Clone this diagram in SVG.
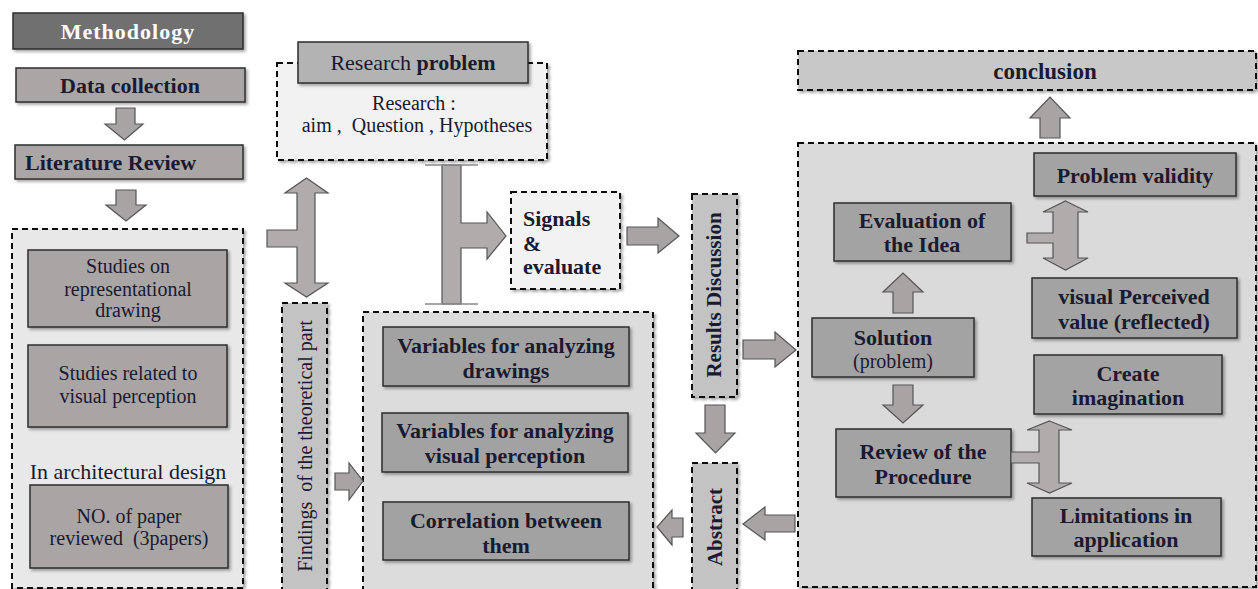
<svg xmlns="http://www.w3.org/2000/svg" width="1258" height="589" viewBox="0 0 1258 589">
<defs>
<filter id="sh" x="-10%" y="-10%" width="130%" height="140%">
<feDropShadow dx="2" dy="2" stdDeviation="1.5" flood-color="#000" flood-opacity="0.35"/>
</filter>
<style>
.t{font-family:"Liberation Serif","Times New Roman",serif;fill:#1a1a30;text-anchor:middle}
.b{font-weight:bold;font-size:22px}
.n{font-size:20px}
.box{stroke:#2e2e2e;stroke-width:1.5}
.dash{stroke:#111;stroke-width:2;stroke-dasharray:6 4}
.arr{fill:#a8a4a4;stroke:#555;stroke-width:1.2;stroke-linejoin:miter}
.darr{fill:#b0acac;stroke:#555;stroke-width:1.2}
</style>
</defs>
<rect width="1258" height="589" fill="#fff"/>

<g id="methodology">
<rect class="box" x="13" y="13" width="230" height="36" fill="#707070" filter="url(#sh)"/>
<text class="t b" x="128" y="39" style="fill:#fff;letter-spacing:1px">Methodology</text>
</g>
<g id="data-collection">
<rect class="box" x="16" y="68" width="229" height="34" fill="#aaa6a6" filter="url(#sh)"/>
<text class="t b" x="130" y="92.5">Data collection</text>
</g>
<g id="literature-review">
<rect class="box" x="15" y="145" width="228" height="34" fill="#aaa6a6" filter="url(#sh)"/>
<text class="t b" x="25" y="169.5" style="text-anchor:start">Literature Review</text>
</g>
<g id="studies-container">
<rect class="dash" x="12" y="229" width="231" height="359" fill="#e8e8e8" filter="url(#sh)"/>
<text class="t" x="128" y="479" style="font-size:22px">In architectural design</text>
</g>
<g id="studies-drawing">
<rect class="box" x="28" y="250" width="199" height="77" fill="#a9a5a5" filter="url(#sh)"/>
<text class="t n" x="128" y="273">Studies on</text>
<text class="t n" x="128" y="296">representational</text>
<text class="t n" x="128" y="317">drawing</text>
</g>
<g id="studies-perception">
<rect class="box" x="28" y="345" width="199" height="82" fill="#a9a5a5" filter="url(#sh)"/>
<text class="t n" x="128" y="380">Studies related to</text>
<text class="t n" x="128" y="403">visual perception</text>
</g>
<g id="papers">
<rect class="box" x="30" y="485" width="198" height="83" fill="#a9a5a5" filter="url(#sh)"/>
<text class="t n" x="129" y="523">NO. of paper</text>
<text class="t n" x="129" y="545" xml:space="preserve">reviewed  (3papers)</text>
</g>

<g id="research-problem">
<rect class="dash" x="277" y="63" width="270" height="97" fill="#f2f2f2" filter="url(#sh)"/>
<rect class="box" x="298" y="42" width="230" height="41" fill="#b3b3b3" filter="url(#sh)"/>
<text class="t" x="413" y="70" style="font-size:22px">Research <tspan font-weight="bold">problem</tspan></text>
<text class="t n" x="414" y="110" xml:space="preserve">Research :</text>
<text class="t n" x="417" y="132" xml:space="preserve">aim ,  Question , Hypotheses</text>
</g>

<g id="findings">
<rect class="dash" x="282" y="303" width="45" height="300" fill="#c3c3c3" filter="url(#sh)"/>
<text class="t n" transform="translate(312,446) rotate(-90)" xml:space="preserve">Findings  of the theoretical part</text>
</g>

<g id="variables-container">
<rect class="dash" x="363" y="312" width="290" height="300" fill="#dcdcdc" filter="url(#sh)"/>
</g>
<g id="var-drawings">
<rect class="box" x="383" y="327" width="246" height="59" fill="#a2a2a2" filter="url(#sh)"/>
<text class="t b" x="506" y="352.5">Variables for analyzing</text>
<text class="t b" x="506" y="377.5">drawings</text>
</g>
<g id="var-perception">
<rect class="box" x="382" y="413" width="246" height="59" fill="#a2a2a2" filter="url(#sh)"/>
<text class="t b" x="505" y="437.5">Variables for analyzing</text>
<text class="t b" x="505" y="462.5">visual perception</text>
</g>
<g id="correlation">
<rect class="box" x="383" y="502" width="246" height="58" fill="#a2a2a2" filter="url(#sh)"/>
<text class="t b" x="506" y="527.5">Correlation between</text>
<text class="t b" x="506" y="552.5">them</text>
</g>

<g id="signals">
<rect class="dash" x="511" y="192" width="109" height="97" fill="#f2f2f2" filter="url(#sh)"/>
<text class="t b" x="523" y="225.5" style="text-anchor:start">Signals</text>
<text class="t b" x="523" y="250.5" style="text-anchor:start">&amp;</text>
<text class="t b" x="523" y="273.5" style="text-anchor:start">evaluate</text>
</g>

<g id="results-discussion">
<rect class="dash" x="692" y="194" width="45" height="203" fill="#c3c3c3" filter="url(#sh)"/>
<text class="t" transform="translate(721,295) rotate(-90)" style="font-size:21px;font-weight:bold">Results Discussion</text>
</g>
<g id="abstract">
<rect class="dash" x="692" y="463" width="45" height="140" fill="#c3c3c3" filter="url(#sh)"/>
<text class="t" transform="translate(722,527) rotate(-90)" style="font-size:21px;font-weight:bold">Abstract</text>
</g>

<g id="conclusion">
<rect class="dash" x="798" y="51" width="458" height="39" fill="#c8c8c8" filter="url(#sh)"/>
<text class="t" x="1045" y="79" style="font-size:23px;font-weight:bold">conclusion</text>
</g>
<g id="discussion-container">
<rect class="dash" x="798" y="143" width="458" height="444" fill="#dadada" filter="url(#sh)"/>
</g>
<g id="problem-validity">
<rect class="box" x="1034" y="153" width="202" height="43" fill="#a3a3a3" filter="url(#sh)"/>
<text class="t b" x="1135" y="182.5">Problem validity</text>
</g>
<g id="evaluation">
<rect class="box" x="834" y="203" width="177" height="58" fill="#a3a3a3" filter="url(#sh)"/>
<text class="t b" x="922" y="227.5">Evaluation of</text>
<text class="t b" x="922" y="251.5">the Idea</text>
</g>
<g id="visual-perceived">
<rect class="box" x="1032" y="278" width="205" height="60" fill="#a3a3a3" filter="url(#sh)"/>
<text class="t b" x="1134" y="303.5">visual Perceived</text>
<text class="t b" x="1134" y="328.5">value (reflected)</text>
</g>
<g id="solution">
<rect class="box" x="812" y="318" width="162" height="59" fill="#a3a3a3" filter="url(#sh)"/>
<text class="t b" x="893" y="344.5">Solution</text>
<text class="t n" x="893" y="368">(problem)</text>
</g>
<g id="create-imagination">
<rect class="box" x="1034" y="355" width="188" height="59" fill="#a3a3a3" filter="url(#sh)"/>
<text class="t b" x="1128" y="380.5">Create</text>
<text class="t b" x="1128" y="404.5">imagination</text>
</g>
<g id="review-procedure">
<rect class="box" x="836" y="429" width="175" height="68" fill="#a3a3a3" filter="url(#sh)"/>
<text class="t b" x="923" y="458.5">Review of the</text>
<text class="t b" x="923" y="483.5">Procedure</text>
</g>
<g id="limitations">
<rect class="box" x="1032" y="498" width="189" height="58" fill="#a3a3a3" filter="url(#sh)"/>
<text class="t b" x="1126" y="522.5">Limitations in</text>
<text class="t b" x="1126" y="546.5">application</text>
</g>

<g id="connectors">
<polygon class="arr" points="116,108 135,108 135,124 143,124 124.5,140 105,124 116,124"/>
<polygon class="arr" points="116,190 136,190 136,205 146,205 126,221 106,205 116,205"/>
<polygon class="darr" points="306.5,178 328,193 315,193 315,283 328,283 306.5,297 285,283 297,283 297,247 267,247 267,230 297,230 297,193 285,193"/>
<polygon class="darr" points="442,165 461,165 461,223 487,223 487,212 506,236 487,259 487,248 461,248 461,304 442,304"/>
<line x1="425" y1="165" x2="478" y2="165" stroke="#888" stroke-width="1.5"/>
<line x1="425" y1="304" x2="478" y2="304" stroke="#888" stroke-width="1.5"/>
<polygon class="arr" points="335,473 349,473 349,463 363,481 349,500 349,490 335,490"/>
<polygon class="arr" points="627,227 658,227 658,218 679,236 658,253 658,245 627,245"/>
<polygon class="arr" points="743,340 775,340 775,332 796,350 775,367 775,359 743,359"/>
<polygon class="arr" points="705,405 725,405 725,433 735,433 715.5,453 696,433 705,433"/>
<polygon class="arr" points="795,515 765,515 765,507 743,524 765,540 765,532 795,532"/>
<polygon class="arr" points="683,518 672,518 672,510 657,527 672,545 672,537 683,537"/>
<polygon class="arr" points="1040,138 1060,138 1060,118 1070,118 1050,97 1030,118 1040,118"/>
<polygon class="arr" points="893,313 913,313 913,292 923,292 903,273 883,292 893,292"/>
<polygon class="arr" points="893,385 913,385 913,405 923,405 903,423 883,405 893,405"/>
<polygon class="darr" points="1065.5,201 1088,212 1078,212 1078,258 1088,258 1065.5,270 1043,258 1053,258 1053,243 1027,243 1027,233 1053,233 1053,212 1043,212"/>
<polygon class="darr" points="1049.5,421 1072,430 1059,430 1059,483 1072,483 1049.5,493 1027,483 1039,483 1039,463 1011,463 1011,452 1039,452 1039,430 1027,430"/>
</g>
</svg>
